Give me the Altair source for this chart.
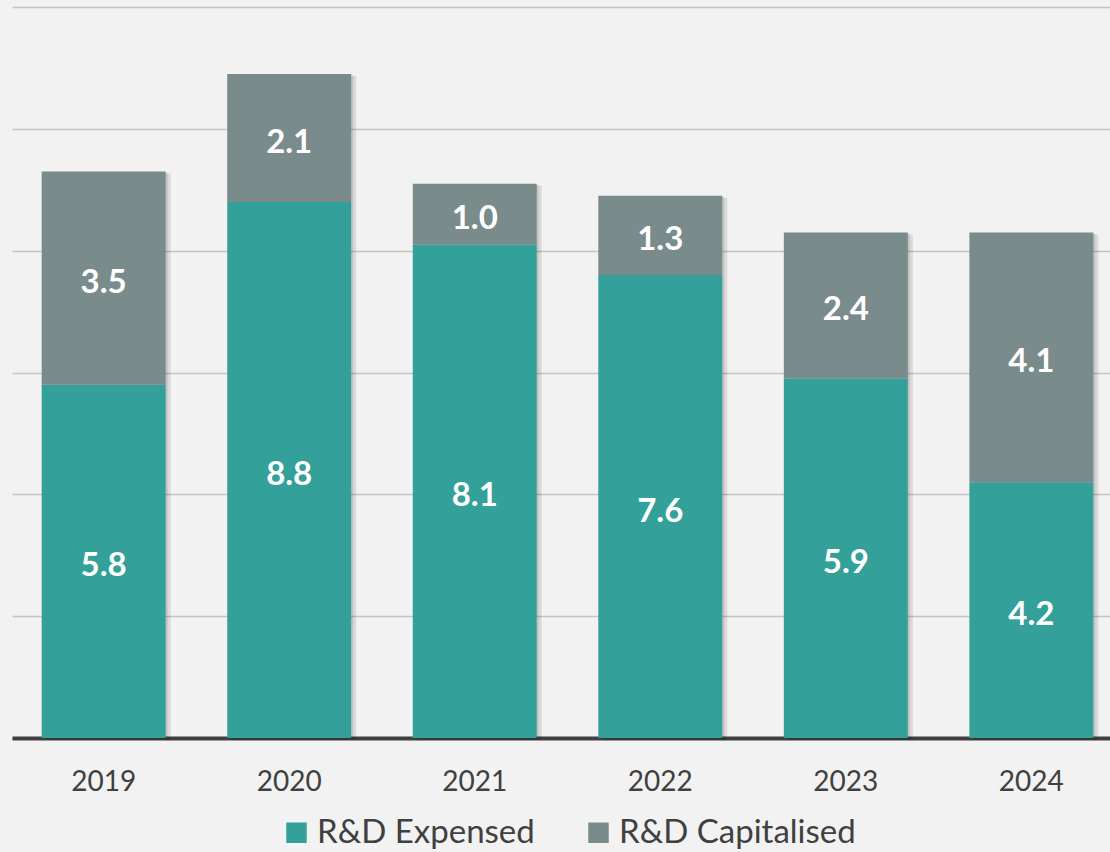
import altair as alt
import pandas as pd

years = ["2019", "2020", "2021", "2022", "2023", "2024"]
expensed = [5.8, 8.8, 8.1, 7.6, 5.9, 4.2]
capitalised = [3.5, 2.1, 1.0, 1.3, 2.4, 4.1]
series = ["R&D Expensed", "R&D Capitalised"]
colors = ["#33a099", "#7a8b8c"]

rows = []
for i, y in enumerate(years):
    rows.append({"year": y, "series": series[0], "value": expensed[i], "order": 0})
    rows.append({"year": y, "series": series[1], "value": capitalised[i], "order": 1})
df = pd.DataFrame(rows)
totals = pd.DataFrame({"year": years, "total": [e + c for e, c in zip(expensed, capitalised)]})

FONT = "Lato"

xscale = alt.Scale(domain=years, range=[0, 1111], paddingInner=0.332, paddingOuter=0.16)
yscale = alt.Scale(domain=[0, 12], nice=False)

xaxis = alt.Axis(
    title=None, labelFont=FONT, labelFontSize=28, labelColor="#404040",
    ticks=False, tickSize=0, labelPadding=30, domainColor="#404040", domainWidth=4,
    labelAngle=0, grid=False,
)
yaxis = alt.Axis(
    title=None, labels=False, ticks=False, domain=False, grid=True,
    values=[0, 2, 4, 6, 8, 10, 12], gridColor="#c4c4c4", gridWidth=1.5,
)

X = alt.X("year:N", scale=xscale, axis=xaxis, sort=years)

shadow1 = alt.Chart(totals).mark_bar(color="#000000", opacity=0.10, xOffset=5, yOffset=2).encode(
    x=X,
    y=alt.Y("total:Q", scale=yscale, axis=yaxis),
)
shadow2 = alt.Chart(totals).mark_bar(color="#000000", opacity=0.10, xOffset=2, yOffset=1).encode(
    x=X,
    y=alt.Y("total:Q", scale=yscale, axis=yaxis),
)

base = alt.Chart(df)

bars = base.mark_bar().encode(
    x=X,
    y=alt.Y("value:Q", scale=yscale, axis=yaxis, stack="zero"),
    color=alt.Color(
        "series:N",
        scale=alt.Scale(domain=series, range=colors),
        legend=alt.Legend(
            title=None, orient="none", legendX=268, legendY=809, direction="horizontal",
            symbolType="square", symbolSize=420, symbolStrokeWidth=0, symbolOpacity=1,
            labelFont=FONT, labelFontSize=33, labelColor="#404040", columnPadding=47,
            labelOffset=4, padding=0, labelLimit=500,
        ),
    ),
    order=alt.Order("order:Q"),
)

labels = base.transform_stack(
    stack="value", groupby=["year"], as_=["y0", "y1"], sort=[alt.SortField("order")]
).transform_calculate(
    mid="(datum.y0 + datum.y1) / 2"
).mark_text(
    font=FONT, fontSize=33, fontWeight="bold", color="white", baseline="middle", dy=5
).encode(
    x=X,
    y=alt.Y("mid:Q", scale=yscale, axis=yaxis),
    text=alt.Text("value:Q", format=".1f"),
)

chart = alt.layer(shadow1, shadow2, bars, labels).properties(
    width=1098, height=731,
    autosize=alt.AutoSizeParams(type="none"),
    padding={"left": 12, "top": 7, "right": 0, "bottom": 114},
    background="#f2f2f2",
).configure_view(stroke=None)

chart.save("out.html", embed_options={"renderer": "svg", "actions": False})
